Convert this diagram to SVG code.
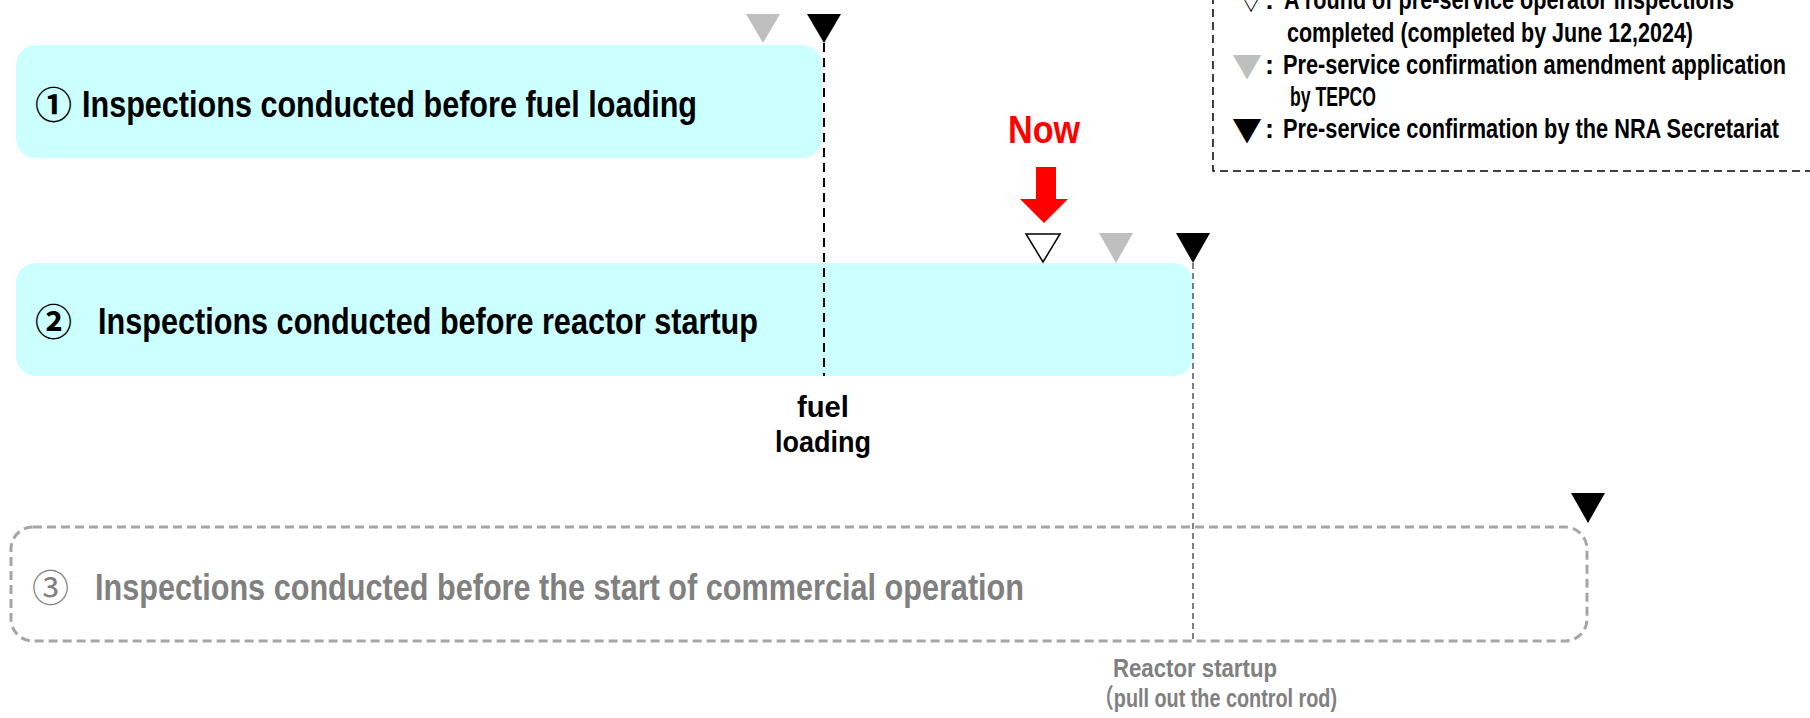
<svg xmlns="http://www.w3.org/2000/svg" width="1810" height="718" viewBox="0 0 1810 718">
<defs>
<style>
.t{font-family:"Liberation Sans",Arial,"Noto Sans CJK JP",sans-serif;font-weight:bold}
.cj{font-family:"Noto Sans CJK JP","DejaVu Sans",sans-serif}
.box{fill:#CCFFFF}
.big{font-size:37px}
.leg{font-size:27px;fill:#000}
.blk{fill:#000}
.gry{fill:#BFBFBF}
.g3{fill:#808080}
</style>
</defs>
<rect width="1810" height="718" fill="#fff"/>

<g id="legend">
<rect x="1213" y="-20" width="640" height="191" fill="none" stroke="#000" stroke-width="1.5" stroke-dasharray="8 5"/>
<text class="cj" x="1239" y="10" font-size="24" fill="#000">▽</text>
<text class="t leg" x="1265" y="9">:</text>
<text class="t leg" x="1284" y="9" textLength="450" lengthAdjust="spacingAndGlyphs">A round of pre-service operator inspections</text>
<text class="t leg" x="1287" y="42" textLength="406" lengthAdjust="spacingAndGlyphs">completed (completed by June 12,2024)</text>
<text class="cj" x="1232" y="77" font-size="30" fill="#BFBFBF">▼</text>
<text class="t leg" x="1265" y="74">:</text>
<text class="t leg" x="1283" y="74" textLength="503" lengthAdjust="spacingAndGlyphs">Pre-service confirmation amendment application</text>
<text class="t leg" x="1290" y="106" textLength="86" lengthAdjust="spacingAndGlyphs">by TEPCO</text>
<text class="cj" x="1232" y="141" font-size="30" fill="#000">▼</text>
<text class="t leg" x="1265" y="138">:</text>
<text class="t leg" x="1283" y="138" textLength="496" lengthAdjust="spacingAndGlyphs">Pre-service confirmation by the NRA Secretariat</text>
</g>

<g id="node1">
<rect class="box" x="16" y="45" width="806" height="113" rx="20"/>
<text class="cj" x="35" y="119" font-size="37" font-weight="bold" fill="#000">①</text>
<text class="t big" x="82" y="117" fill="#000" textLength="615" lengthAdjust="spacingAndGlyphs">Inspections conducted before fuel loading</text>
</g>

<g id="node2">
<rect class="box" x="16" y="263" width="1177" height="113" rx="20"/>
<text class="cj" x="35" y="336" font-size="37" font-weight="bold" fill="#000">②</text>
<text class="t big" x="98" y="334" fill="#000" textLength="660" lengthAdjust="spacingAndGlyphs">Inspections conducted before reactor startup</text>
</g>

<g id="node3">
<rect x="11" y="527" width="1576" height="114" rx="22" fill="none" stroke="#A6A6A6" stroke-width="3" stroke-dasharray="9 5"/>
<text class="cj g3" x="32" y="602" font-size="37">③</text>
<text class="t big g3" x="95" y="600" textLength="929" lengthAdjust="spacingAndGlyphs">Inspections conducted before the start of commercial operation</text>
</g>

<g id="connectors">
<line x1="824" y1="43" x2="824" y2="376" stroke="#000" stroke-width="2" stroke-dasharray="9 6"/>
<line x1="1193" y1="263" x2="1193" y2="641" stroke="#000" stroke-width="1" stroke-dasharray="6 4"/>
</g>

<g id="markers">
<polygon class="gry" points="746,14 780,14 763,43"/>
<polygon class="blk" points="807,14 841,14 824,43"/>
<polygon points="1026,234 1060,234 1043,262" fill="#fff" stroke="#000" stroke-width="1.5"/>
<polygon class="gry" points="1099,233 1133,233 1116,263"/>
<polygon class="blk" points="1176,233 1210,233 1193,263"/>
<polygon class="blk" points="1571,493 1605,493 1588,523"/>
</g>

<g id="now">
<text class="t" x="1008" y="143" font-size="39" fill="#FF0000" textLength="72" lengthAdjust="spacingAndGlyphs">Now</text>
<polygon points="1036,167 1056,167 1056,199 1068,199 1044,223 1020,199 1036,199" fill="#FF0000"/>
</g>

<g id="label-fuel">
<text class="t" x="823" y="417" font-size="29" fill="#000" text-anchor="middle" textLength="52" lengthAdjust="spacingAndGlyphs">fuel</text>
<text class="t" x="823" y="452" font-size="29" fill="#000" text-anchor="middle" textLength="96" lengthAdjust="spacingAndGlyphs">loading</text>
</g>

<g id="label-startup">
<text class="t g3" x="1195" y="677" font-size="26" text-anchor="middle" textLength="164" lengthAdjust="spacingAndGlyphs">Reactor startup</text>
<text class="t g3" x="1094" y="707" font-size="26" textLength="243" lengthAdjust="spacingAndGlyphs">（pull out the control rod)</text>
</g>
</svg>
